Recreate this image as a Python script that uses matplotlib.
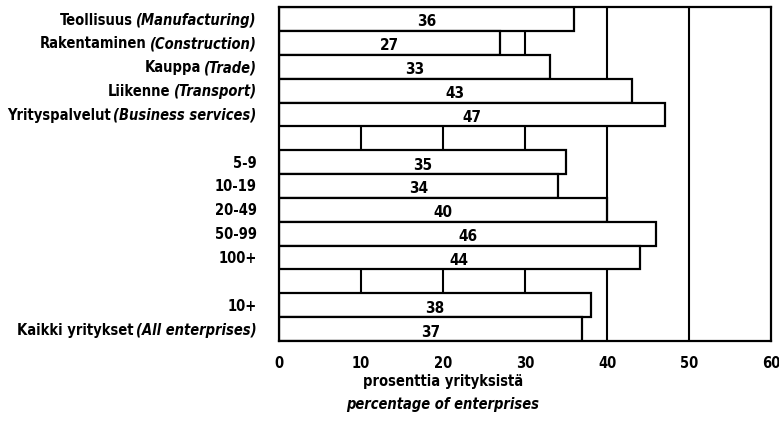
import numpy as np
import matplotlib
matplotlib.use("Agg")
import matplotlib.pyplot as plt

# ---------------- DATA ----------------

names = ["Teollisuus", "Rakentaminen", "Kauppa", "Liikenne", "Yrityspalvelut",
         "5-9", "10-19", "20-49", "50-99", "100+",
         "10+", "Kaikki yritykset"]
names_en = ["(Manufacturing)", "(Construction)", "(Trade)", "(Transport)",
            "(Business services)",
            "", "", "", "", "",
            "", "(All enterprises)"]
values = [36, 27, 33, 43, 47,
          35, 34, 40, 46, 44,
          38, 37]
group_sizes = [5, 5, 2]
xticks = [0, 10, 20, 30, 40, 50, 60]

# ---------------- PLOT ----------------

plt.rcParams["font.family"] = ["DejaVu Sans"]
plt.rcParams["font.stretch"] = "condensed"
plt.rcParams["font.weight"] = "bold"

# row positions, one empty slot between groups
rows = []
pos = 0
for g in group_sizes:
    rows += list(range(pos, pos + g))
    pos += g + 1
n_slots = pos - 1

fig = plt.figure(figsize=(7.79, 4.27), dpi=100)
ax = fig.add_axes([0.358, 0.199, 0.632, 0.782])

for xv in xticks[1:-1]:
    ax.axvline(xv, color="black", lw=1.5, zorder=1)

ax.barh(rows, values, height=1.0, color="white", edgecolor="black",
        linewidth=1.6, zorder=2)

for r, v in zip(rows, values):
    ax.text(v / 2, r + 0.08, str(v), ha="center", va="center",
            fontsize=11, fontweight="bold", zorder=3)

ax.set_xlim(0, 60)
ax.set_ylim(n_slots - 0.5, -0.5)
ax.set_xticks(xticks)
ax.set_yticks([])
ax.tick_params(axis="x", length=0, pad=10, labelsize=10.5)
for lab in ax.get_xticklabels():
    lab.set_fontweight("bold")
for sp in ax.spines.values():
    sp.set_linewidth(1.6)

# category labels: plain Finnish part + italic English part
fig.canvas.draw()
renderer = fig.canvas.get_renderer()
trans = ax.get_yaxis_transform()
inv = ax.transAxes.inverted()
x_right = -0.045
fs = 10.5
for r, fi, en in zip(rows, names, names_en):
    if en:
        t = ax.text(x_right, r, en, transform=trans, ha="right", va="center",
                    fontsize=fs, fontweight="bold", style="italic")
        bb = t.get_window_extent(renderer)
        x0 = inv.transform((bb.x0, 0))[0]
        ax.text(x0 - 0.006, r, fi, transform=trans, ha="right", va="center",
                fontsize=fs, fontweight="bold")
    else:
        ax.text(x_right, r, fi, transform=trans, ha="right", va="center",
                fontsize=fs, fontweight="bold")

# axis title
bt = matplotlib.transforms.blended_transform_factory(ax.transData, fig.transFigure)
fig.text(20, 1 - 382 / 427, "prosenttia yrityksistä", transform=bt,
         ha="center", va="center", fontsize=10.5, fontweight="bold")
fig.text(20, 1 - 405 / 427, "percentage of enterprises", transform=bt,
         ha="center", va="center", fontsize=10.5, fontweight="bold", style="italic")

plt.savefig("out.png", dpi=100)
plt.close()
